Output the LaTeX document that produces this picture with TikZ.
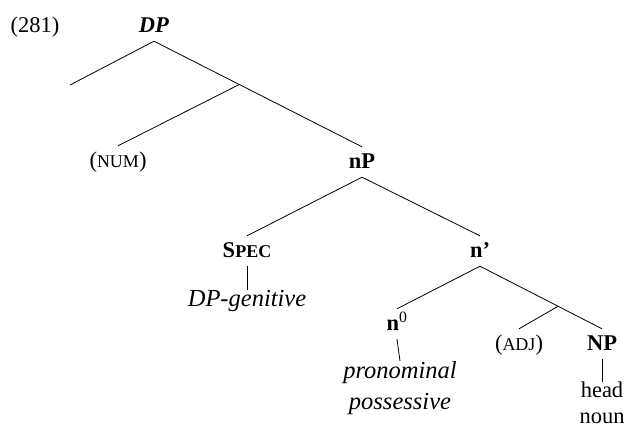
\documentclass[tikz,border=0pt]{standalone}
\usepackage{fontspec}
\setmainfont{Liberation Serif}
\usetikzlibrary{calc, positioning}

\newcommand\fakesc[1]{{\fontsize{18}{20}\selectfont #1}}

\begin{document}
\fontsize{22.5}{30}\selectfont
\begin{tikzpicture}[x=1pt, y=-1pt,
    cat/.style={font=\bfseries, anchor=base, inner xsep=2pt, inner ysep=6pt,
        text height=15pt, text depth=3pt},
    optcat/.style={anchor=base, inner xsep=2pt, inner ysep=6pt,
        text height=15pt, text depth=3pt},
    leaf/.style={anchor=north, align=center, inner xsep=2pt, inner ysep=0pt,
        font=\fontsize{22.5}{31}\selectfont},
    leafit/.style={leaf, font=\fontsize{24.5}{31}\selectfont\itshape},
    branch/.style={line width=0.8pt}]
    \useasboundingbox (0,0) rectangle (627,432);

    % 1. Example number and the root
    \node[anchor=base] (exnum) at (35,32) {(281)};
    \node[cat] (dp) at (154,32) {\textit{DP}};

    % 2. Category nodes of the tree
    \node[optcat] (num) at (118,167) {(\fakesc{NUM})};
    \node[cat] (np) at (362,168) {nP};
    \node[cat] (spec) at (247,257) {S\fakesc{PEC}};
    \node[cat] (nbar) at (480,257) {n’};
    \node[cat] (nzero) at (397,330) {n\textsuperscript{\mdseries 0}};
    \node[optcat] (adj) at (519,350) {(\fakesc{ADJ})};
    \node[cat] (nproj) at (602,350) {NP};

    % 3. Leaves
    \node[leafit] (gen) at (247,290) {DP-genitive};
    \node[leafit] (poss) at (400,361) {pronominal\\possessive};
    \node[leaf, font=\fontsize{22.5}{26}\selectfont] (head) at (602,382) {head\\noun};

    % 4. Branches
    \coordinate (dleft) at (70,85);
    \coordinate (dpjoin) at ($(dp.south)!0.41!(np.north)$);
    \coordinate (nbarjoin) at ($(nbar.south)!0.64!(nproj.north)$);

    \draw[branch] (dp.south) -- (dleft);
    \draw[branch] (dp.south) -- (np.north);
    \draw[branch] (dpjoin) -- (num.north);
    \draw[branch] (np.south) -- (spec.north);
    \draw[branch] (np.south) -- (nbar.north);
    \draw[branch] (spec.south) -- (gen.north);
    \draw[branch] (nbar.south) -- (nzero.north);
    \draw[branch] (nbar.south) -- (nproj.north);
    \draw[branch] (nbarjoin) -- (adj.north);
    \draw[branch] (nzero.south) -- (poss.north);
    \draw[branch] (nproj.south) -- (head.north);
\end{tikzpicture}
\end{document}
